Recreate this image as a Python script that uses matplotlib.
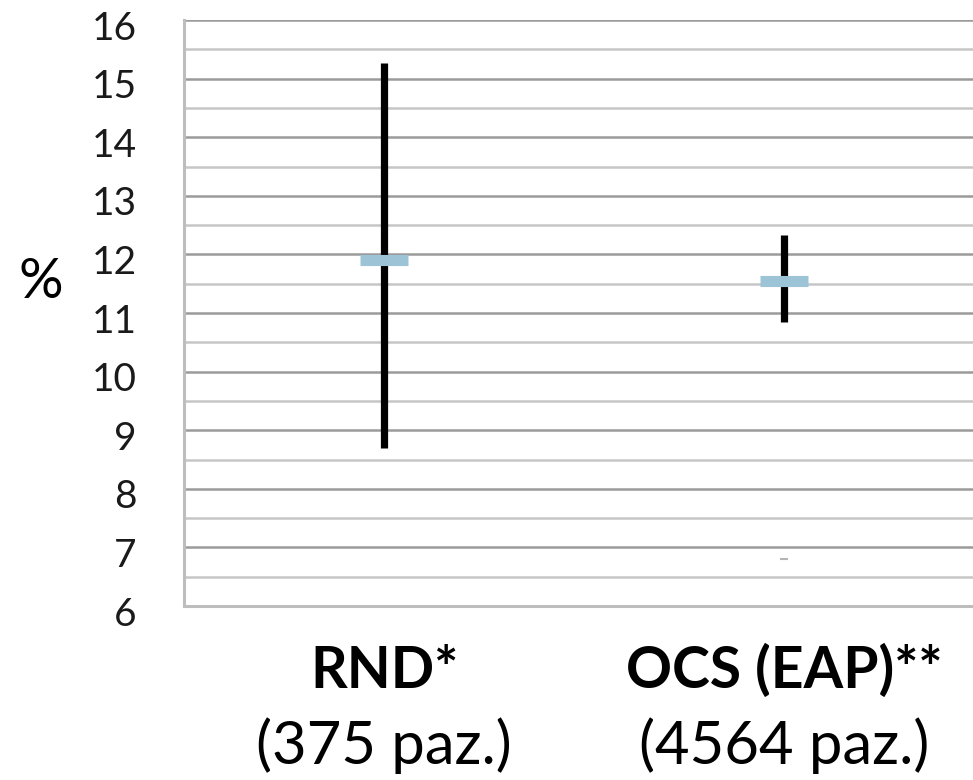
# intervalli RND vs OCS
import matplotlib
matplotlib.use('Agg')
import matplotlib.pyplot as plt
import matplotlib.transforms as mtransforms

plt.rcParams['font.family'] = ['Lato', 'DejaVu Sans']

# dati
gruppi = ['RND*', 'OCS (EAP)**']
pazienti = ['(375 paz.)', '(4564 paz.)']
x_pos = [0.5, 1.5]
minimo = [8.7, 10.85]
massimo = [15.27, 12.33]
media = [11.9, 11.55]
extra_x = [1.5]
extra_y = [6.8]
y_ticks = [6, 7, 8, 9, 10, 11, 12, 13, 14, 15, 16]

fig = plt.figure(figsize=(9.73, 7.8), dpi=100)
ax = fig.add_axes([184 / 973, 1 - 606 / 780, 1 - 184 / 973 + 0.02, 586 / 780])

# griglia
ax.set_ylim(6, 16)
ax.set_xlim(0, 2.02)
ax.set_yticks(y_ticks)
ax.set_yticks([v + 0.5 for v in y_ticks[:-1]], minor=True)
ax.grid(axis='y', which='major', color='#9a9a9a', lw=1.8, zorder=0)
ax.grid(axis='y', which='minor', color='#c6c6c6', lw=1.8, zorder=0)
ax.tick_params(axis='y', which='both', length=0, pad=34, labelsize=28, labelcolor='#1a1a1a')
ax.set_xticks([])
for s in ['top', 'right']:
    ax.spines[s].set_visible(False)
for s in ['left', 'bottom']:
    ax.spines[s].set_color('#bdbdbd')
    ax.spines[s].set_linewidth(2.2)

# etichette un po' sotto la linea
off = mtransforms.ScaledTranslation(0, -5 / 100, fig.dpi_scale_trans)
for lab in ax.get_yticklabels():
    lab.set_transform(lab.get_transform() + off)

# intervalli e medie
ax.vlines(x_pos, minimo, massimo, color='black', lw=5.2, zorder=3)
ax.plot(x_pos, media, ls='none', marker='_', ms=34, mew=8, color='#9dc4d6', zorder=4)
ax.plot(extra_x, extra_y, ls='none', marker='_', ms=6, mew=1.5, color='#b5b5b5', zorder=3)

# nomi gruppi
tr = ax.get_xaxis_transform()
for i in range(2):
    ax.text(x_pos[i], -0.111, gruppi[i], transform=tr, ha='center', va='center',
            fontsize=41, fontweight='bold', color='black')
    ax.text(x_pos[i], -0.239, pazienti[i], transform=tr, ha='center', va='center',
            fontsize=43, color='black')

fig.text(41 / 973, 1 - 282 / 780, '%', ha='center', va='center', fontsize=40)

fig.savefig('out.png', dpi=100)
